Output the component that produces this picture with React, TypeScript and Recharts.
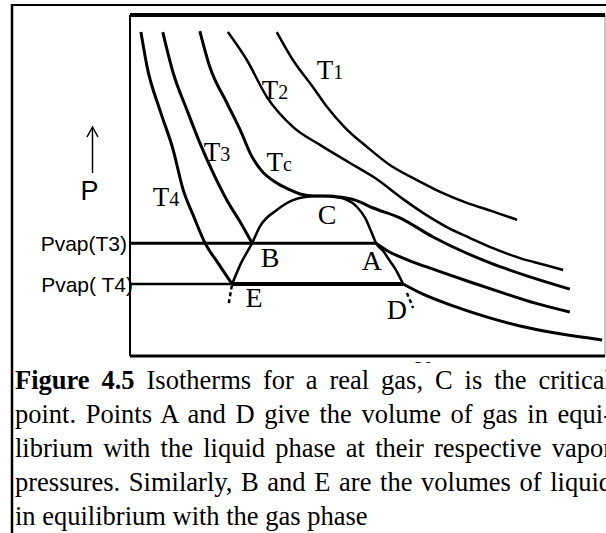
import React from 'react';
import { LineChart, Line, XAxis, YAxis, ReferenceLine, ReferenceDot } from 'recharts';

// Van der Waals style isotherms: volume v (x) against pressure p (y), both in
// arbitrary units spanning 0..100 on each axis.
type Pair = [number, number];

const isothermT1: Pair[] = [
  [30.9, 95.0], [34.3, 86.8], [38.5, 78.9], [41.5, 73.0], [45.3, 66.9], [49.9, 61.3],
  [54.7, 56.0], [60.4, 51.6], [65.3, 48.1], [70.9, 44.9], [76.2, 42.5], [81.5, 39.9],
];

const isothermT2: Pair[] = [
  [20.6, 95.0], [24.6, 86.8], [28.8, 76.0], [34.3, 67.2], [40.0, 61.9], [46.3, 56.6],
  [51.6, 52.2], [57.5, 46.0], [62.1, 41.6], [66.7, 37.8], [71.6, 34.6], [76.8, 31.4],
  [82.1, 28.7], [87.4, 26.7], [91.2, 25.2],
];

const isothermTc: Pair[] = [
  [14.7, 95.3], [16.8, 84.8], [20.4, 74.2], [23.2, 66.3], [25.5, 58.9], [27.6, 54.5],
  [30.9, 50.7], [33.7, 48.7], [35.8, 47.5], [38.9, 46.9], [42.1, 46.9], [44.2, 46.6],
  [47.4, 45.7], [51.2, 43.4], [56.8, 40.5], [63.8, 34.9], [75.8, 27.3], [84.2, 23.2],
  [92.6, 19.6],
];

// T3 below the critical temperature: liquid branch down to B, gas branch from A
const liquidT3: Pair[] = [
  [6.9, 95.0], [9.1, 83.0], [12.0, 72.1], [14.7, 62.5], [17.5, 53.7], [20.4, 45.7],
  [23.2, 39.3], [25.7, 33.1],
];
const gasT3: Pair[] = [
  [51.8, 33.1], [53.9, 31.1], [58.9, 27.9], [64.4, 25.2], [71.6, 21.7], [78.5, 18.5],
  [85.3, 15.5], [92.6, 12.9],
];

// T4: liquid branch down to E, gas branch from D
const liquidT4: Pair[] = [
  [2.3, 95.0], [3.6, 84.8], [6.3, 72.1], [9.1, 60.4], [11.2, 48.7], [13.3, 41.3],
  [15.8, 33.1], [18.5, 27.3], [21.5, 21.1],
];
const gasT4: Pair[] = [
  [57.5, 21.1], [61.1, 18.5], [68.0, 14.7], [75.2, 11.4], [82.1, 8.8], [90.5, 6.5],
  [99.4, 4.7],
];

// Liquid–vapour coexistence boundary E → B → C → A → D
const coexistenceDome: Pair[] = [
  [21.5, 21.1], [23.4, 27.3], [25.7, 33.1], [27.4, 38.1], [30.9, 42.8], [34.3, 45.7],
  [36.8, 46.6], [40.0, 46.9], [43.2, 46.6], [45.3, 46.0], [47.8, 43.7], [49.5, 40.5],
  [50.9, 36.1], [51.8, 33.1], [53.3, 30.8], [54.7, 27.9], [56.0, 25.2], [57.5, 21.1],
];

// short dashed continuations of the boundary past E and D
const tailE: Pair[] = [[20.8, 15.5], [21.5, 21.1]];
const tailD: Pair[] = [[58.3, 18.5], [59.6, 14.1]];

// vapour pressures and the volumes where they meet the boundary
const pVapT3 = 33.1;
const pVapT4 = 21.1;
const volA = 51.8;
const volD = 57.5;
const volE = 21.5;

const tieT3: Pair[] = [[0, pVapT3], [volA, pVapT3]];
const tieT4Left: Pair[] = [[0, pVapT4], [volE, pVapT4]];
const tieT4Right: Pair[] = [[volE, pVapT4], [volD, pVapT4]];

// isotherm names and where they are written
const isothermNames: { main: string; sub: string; v: number; p: number }[] = [
  { main: 'T', sub: '1', v: 42.1, p: 83.9 },
  { main: 'T', sub: '2', v: 30.5, p: 78.0 },
  { main: 'T', sub: '3', v: 18.3, p: 59.8 },
  { main: 'T', sub: 'c', v: 31.4, p: 56.9 },
  { main: 'T', sub: '4', v: 7.6, p: 46.6 },
];

// letters marking points on the boundary
const pointNames: { name: string; v: number; p: number }[] = [
  { name: 'C', v: 41.5, p: 41.3 },
  { name: 'B', v: 29.5, p: 28.7 },
  { name: 'A', v: 50.9, p: 27.9 },
  { name: 'E', v: 26.1, p: 17.0 },
  { name: 'D', v: 56.2, p: 13.5 },
];

const pressureNames: { text: string; p: number; dx: number }[] = [
  { text: 'Pvap(T3)', p: pVapT3, dx: -3 },
  { text: 'Pvap( T4)', p: pVapT4, dx: 3 },
];

const toPoints = (pairs: Pair[]) => pairs.map(([v, p]) => ({ v, p }));

const SERIF = '"Liberation Serif", "Times New Roman", Times, serif';
const SANS = '"Liberation Sans", Arial, sans-serif';

const centerOf = (props: any) => {
  const vb = props.viewBox || { x: 0, y: 0, width: 0, height: 0 };
  return { cx: vb.x + (vb.width || 0) / 2, cy: vb.y + (vb.height || 0) / 2 };
};

const isothermLabel = (main: string, sub: string) => (props: any) => {
  const { cx, cy } = centerOf(props);
  const size = 27;
  return (
    <text x={cx} y={cy + size * 0.33} textAnchor="middle" fontFamily={SERIF} fontSize={size} fill="#000">
      {main}
      <tspan fontSize={20}>{sub}</tspan>
    </text>
  );
};

const pointLabel = (name: string) => (props: any) => {
  const { cx, cy } = centerOf(props);
  const size = 28;
  return (
    <text x={cx} y={cy + size * 0.33} textAnchor="middle" fontFamily={SERIF} fontSize={size} fill="#000">
      {name}
    </text>
  );
};

const pressureLabel = (text: string, dx: number) => (props: any) => {
  const { cx, cy } = centerOf(props);
  const size = 21;
  return (
    <text x={cx + dx} y={cy + size * 0.36} textAnchor="end" fontFamily={SANS} fontSize={size} fill="#000">
      {text}
    </text>
  );
};

const curveProps = {
  dataKey: 'p',
  type: 'monotone' as const,
  stroke: '#000',
  dot: false,
  activeDot: false,
  isAnimationActive: false,
};

const lineProps = {
  dataKey: 'p',
  type: 'linear' as const,
  stroke: '#000',
  dot: false,
  activeDot: false,
  isAnimationActive: false,
};

const captionLine: React.CSSProperties = {
  textAlign: 'justify',
  textAlignLast: 'justify',
  whiteSpace: 'nowrap',
};

export default function App() {
  return (
    <div
      style={{
        position: 'absolute',
        left: 0,
        top: 0,
        width: 606,
        height: 533,
        overflow: 'hidden',
        background: '#fff',
      }}
    >
      <svg width={606} height={533} style={{ position: 'absolute', left: 0, top: 0 }}>
        <line x1={12} y1={5} x2={606} y2={5} stroke="#000" strokeWidth={2} />
        <line x1={12} y1={4} x2={12} y2={533} stroke="#000" strokeWidth={2.5} />
        <line x1={92.5} y1={128} x2={92.5} y2={173} stroke="#000" strokeWidth={1.5} />
        <polyline points="87,137 92.5,127 98,137" fill="none" stroke="#000" strokeWidth={1.5} />
        <text x={89.5} y={200} textAnchor="middle" fontFamily={SANS} fontSize={27} fill="#000">
          P
        </text>
        <text x={423} y={376} textAnchor="middle" fontFamily={SERIF} fontSize={22} fill="#000">
          V
        </text>
      </svg>

      <div style={{ position: 'absolute', left: 0, top: 0 }}>
        <LineChart width={606} height={533} margin={{ top: 15, right: 1, bottom: 177, left: 130 }}>
          <XAxis type="number" dataKey="v" domain={[0, 100]} allowDataOverflow hide />
          <YAxis type="number" dataKey="p" domain={[0, 100]} allowDataOverflow hide />

          <ReferenceLine x={0} stroke="#000" strokeWidth={2} />
          <ReferenceLine x={100} stroke="#8a8a8a" strokeWidth={1} />
          <ReferenceLine y={100} stroke="#000" strokeWidth={4} />
          <ReferenceLine y={0} stroke="#000" strokeWidth={3} />

          <Line {...lineProps} data={toPoints(tieT3)} strokeWidth={3} />
          <Line {...lineProps} data={toPoints(tieT4Left)} strokeWidth={2.5} />
          <Line {...lineProps} data={toPoints(tieT4Right)} strokeWidth={4} />

          <Line {...curveProps} data={toPoints(isothermT1)} strokeWidth={2.5} />
          <Line {...curveProps} data={toPoints(isothermT2)} strokeWidth={2.5} />
          <Line {...curveProps} data={toPoints(isothermTc)} strokeWidth={3} />
          <Line {...curveProps} data={toPoints(liquidT3)} strokeWidth={3} />
          <Line {...curveProps} data={toPoints(gasT3)} strokeWidth={3} />
          <Line {...curveProps} data={toPoints(liquidT4)} strokeWidth={3} />
          <Line {...curveProps} data={toPoints(gasT4)} strokeWidth={3} />
          <Line {...curveProps} data={toPoints(coexistenceDome)} strokeWidth={2.5} />
          <Line {...lineProps} data={toPoints(tailE)} strokeWidth={2.5} strokeDasharray="4 3" />
          <Line {...lineProps} data={toPoints(tailD)} strokeWidth={2.5} strokeDasharray="4 3" />

          {isothermNames.map((n) => (
            <ReferenceDot
              key={n.main + n.sub}
              x={n.v}
              y={n.p}
              r={0}
              fill="none"
              stroke="none"
              label={isothermLabel(n.main, n.sub)}
            />
          ))}
          {pointNames.map((n) => (
            <ReferenceDot key={n.name} x={n.v} y={n.p} r={0} fill="none" stroke="none" label={pointLabel(n.name)} />
          ))}
          {pressureNames.map((n) => (
            <ReferenceDot key={n.text} x={0} y={n.p} r={0} fill="none" stroke="none" label={pressureLabel(n.text, n.dx)} />
          ))}
        </LineChart>
      </div>

      <div
        style={{
          position: 'absolute',
          left: 14,
          top: 363,
          width: 598,
          height: 170,
          paddingLeft: 1,
          boxSizing: 'border-box',
          background: '#fff',
          fontFamily: SERIF,
          fontSize: 26.5,
          lineHeight: '34px',
          color: '#000',
        }}
      >
        <div style={captionLine}>
          <b>Figure 4.5</b> Isotherms for a real gas, C is the critical
        </div>
        <div style={captionLine}>point. Points A and D give the volume of gas in equi-</div>
        <div style={captionLine}>librium with the liquid phase at their respective vapor</div>
        <div style={captionLine}>pressures. Similarly, B and E are the volumes of liquid</div>
        <div style={{ whiteSpace: 'nowrap' }}>in equilibrium with the gas phase</div>
      </div>
    </div>
  );
}
